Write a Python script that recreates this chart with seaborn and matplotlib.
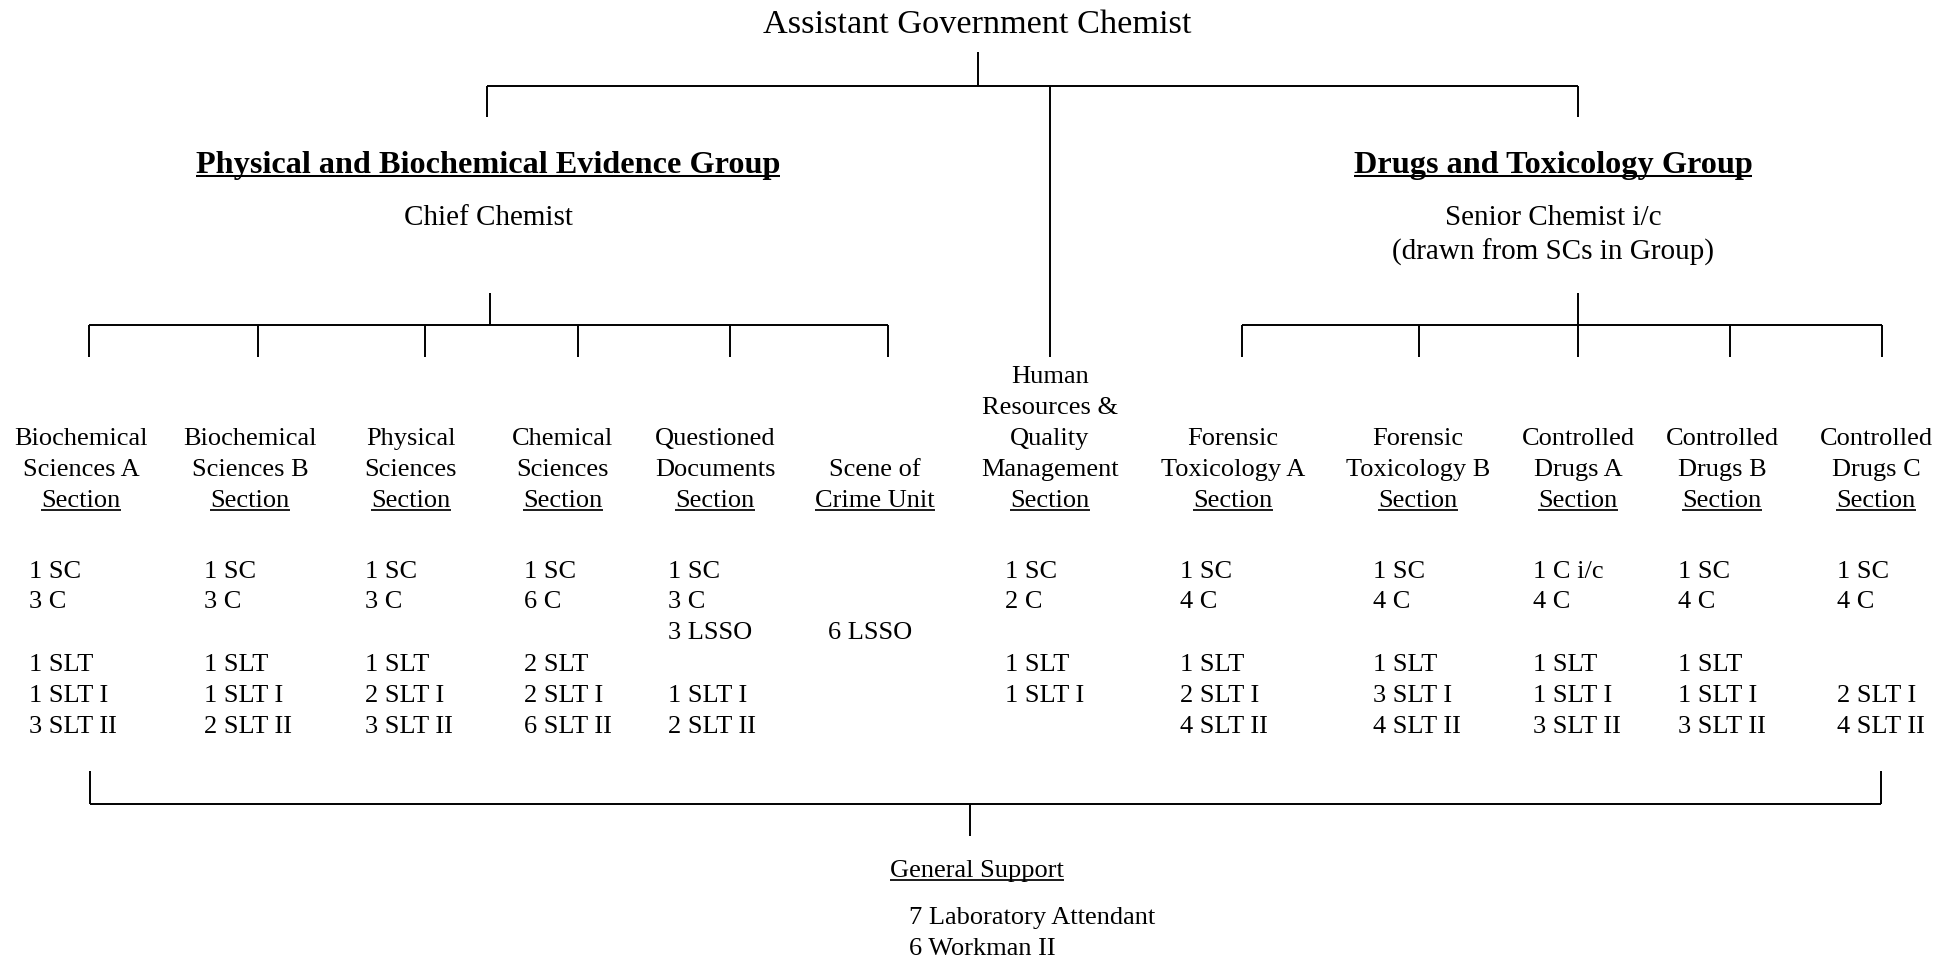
import numpy as np
import pandas as pd
import seaborn as sns
import matplotlib.pyplot as plt

# ---- chart data ----
title = "Assistant Government Chemist"
groups = ["Physical and Biochemical Evidence Group", "Drugs and Toxicology Group"]
group_heads = [["Chief Chemist"], ["Senior Chemist i/c", "(drawn from SCs in Group)"]]

# section names, last line is underlined
sections = [
    ["Biochemical", "Sciences A", "Section"],
    ["Biochemical", "Sciences B", "Section"],
    ["Physical", "Sciences", "Section"],
    ["Chemical", "Sciences", "Section"],
    ["Questioned", "Documents", "Section"],
    ["Scene of", "Crime Unit"],
    ["Human", "Resources &", "Quality", "Management", "Section"],
    ["Forensic", "Toxicology A", "Section"],
    ["Forensic", "Toxicology B", "Section"],
    ["Controlled", "Drugs A", "Section"],
    ["Controlled", "Drugs B", "Section"],
    ["Controlled", "Drugs C", "Section"],
]

# staff counts per section (0 = none), one list per grade row
head_grade = ["SC", "SC", "SC", "SC", "SC", "", "SC", "SC", "SC", "C i/c", "SC", "SC"]
head_n = [1, 1, 1, 1, 1, 0, 1, 1, 1, 1, 1, 1]
chemist_n = [3, 3, 3, 6, 3, 0, 2, 4, 4, 4, 4, 4]
lsso_n = [0, 0, 0, 0, 3, 6, 0, 0, 0, 0, 0, 0]
slt_n = [1, 1, 1, 2, 0, 0, 1, 1, 1, 1, 1, 0]
slt1_n = [1, 1, 2, 2, 1, 0, 1, 2, 3, 1, 1, 2]
slt2_n = [3, 2, 3, 6, 2, 0, 0, 4, 4, 3, 3, 4]

support_title = "General Support"
support_staff = ["7 Laboratory Attendant", "6 Workman II"]

# ---- layout (pixel positions) ----
W, H = 1955, 959
label_cx = [81, 250, 411, 563, 715, 875, 1050, 1233, 1418, 1578, 1722, 1876]
staff_x = [29, 204, 365, 524, 668, 828, 1005, 1180, 1373, 1533, 1678, 1837]
row_y = [578, 608, 639, 671, 702, 733]
left_ticks = [89, 258, 425, 578, 730, 888]
right_ticks = [1242, 1419, 1578, 1730, 1882]
group_cx = [488, 1553]

sns.set_theme(style="white")
plt.rcParams['font.family'] = ['Liberation Serif', 'DejaVu Serif']

fig = plt.figure(figsize=(W / 100, H / 100), dpi=100)
ax = fig.add_axes([0, 0, 1, 1])

# connector segments
segs = [
    [(978, 52), (978, 86)],
    [(487, 86), (1578, 86)],
    [(487, 86), (487, 117)],
    [(1578, 86), (1578, 117)],
    [(1050, 86), (1050, 357)],
    [(490, 293), (490, 325)],
    [(left_ticks[0], 325), (left_ticks[-1], 325)],
    [(1578, 293), (1578, 325)],
    [(right_ticks[0], 325), (right_ticks[-1], 325)],
    [(90, 771), (90, 804)],
    [(1881, 771), (1881, 804)],
    [(90, 804), (1881, 804)],
    [(970, 804), (970, 836)],
]
for x in left_ticks + right_ticks:
    segs.append([(x, 325), (x, 357)])

rows = []
for i, s in enumerate(segs):
    for (x, y) in s:
        rows.append({"seg": i, "x": x, "y": y})
seg_df = pd.DataFrame(rows)
sns.lineplot(data=seg_df, x="x", y="y", units="seg", estimator=None, sort=False,
             color="black", lw=1.4, legend=False, ax=ax, solid_capstyle="butt")
ax.set_xlim(0, W)
ax.set_ylim(H, 0)
ax.axis('off')

renderer = fig.canvas.get_renderer()


def put(x, y, s, size, ha='center', weight='normal', underline=False):
    t = ax.text(x, y, s, fontsize=size, ha=ha, va='baseline', fontweight=weight, color='black')
    if underline:
        bb = t.get_window_extent(renderer)
        px = size / 72 * 100
        uy = y + 0.1 * px
        ax.plot([bb.x0, bb.x1], [uy, uy], color='black', lw=0.05 * px * 0.72 + 0.3,
                solid_capstyle='butt')
    return t


put(977, 33, title, 24.7)

for cx, g, heads in zip(group_cx, groups, group_heads):
    put(cx, 173, g, 23.2, weight='bold', underline=True)
    for k, line in enumerate(heads):
        put(cx, 225 + 35 * k, line, 21)

for cx, lines in zip(label_cx, sections):
    n = len(lines)
    for k, line in enumerate(lines):
        y = 507 - 31 * (n - 1 - k)
        put(cx, y, line, 19, underline=(k == n - 1))

grade_rows = [
    (head_n, head_grade),
    (chemist_n, ["C"] * 12),
    (lsso_n, ["LSSO"] * 12),
    (slt_n, ["SLT"] * 12),
    (slt1_n, ["SLT I"] * 12),
    (slt2_n, ["SLT II"] * 12),
]
for y, (counts, grades) in zip(row_y, grade_rows):
    for x, n, g in zip(staff_x, counts, grades):
        if n:
            put(x, y, f"{n} {g}", 19, ha='left')

put(977, 877, support_title, 19, underline=True)
for k, line in enumerate(support_staff):
    put(909, 924 + 31 * k, line, 19, ha='left')

fig.savefig("out.png", dpi=100)
